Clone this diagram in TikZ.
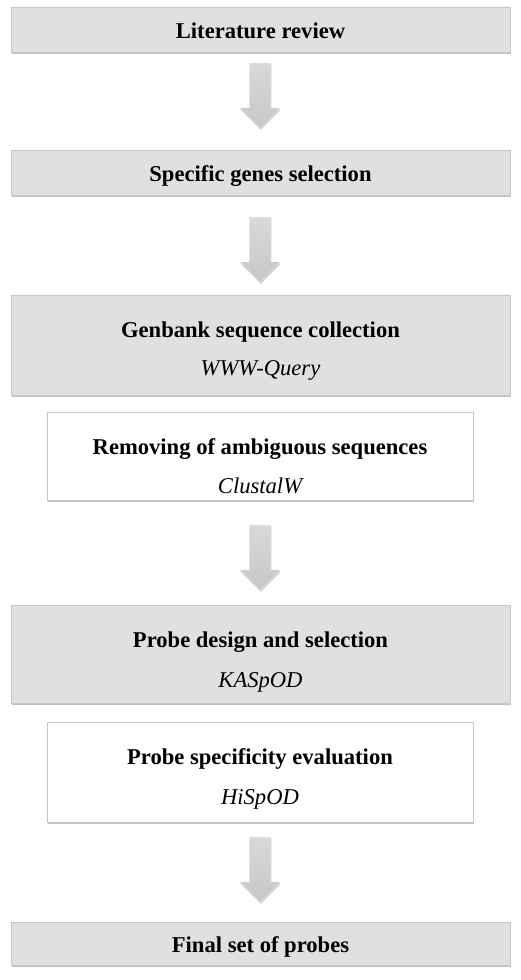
\documentclass[tikz,border=0pt]{standalone}
\usepackage{fontspec}
\setmainfont{Liberation Serif}
\usetikzlibrary{shapes.arrows,shadows}

\begin{document}
\begin{tikzpicture}
                [
                x=1pt, y=-1pt,
                stepbox/.style={rectangle,inner sep=0pt,draw=black!22,line width=0.4pt,fill=black!12,
                    minimum width=499pt,minimum height=45pt,
                    drop shadow={shadow xshift=0pt,shadow yshift=-1pt,opacity=0.25,fill=black},
                    drop shadow={shadow xshift=0.8pt,shadow yshift=-2.4pt,opacity=0.25,fill=black}},
                toolbox/.style={stepbox,fill=white,minimum width=426pt},
                steptitle/.style={anchor=base,inner sep=0pt,font=\fontsize{22.6}{26}\selectfont\bfseries},
                steptool/.style={anchor=base,inner sep=0pt,font=\fontsize{22.6}{26}\selectfont\itshape},
                downarrow/.style={single arrow,shape border rotate=270,inner sep=10.5pt,anchor=tail,
                    minimum height=65pt,minimum width=0pt,single arrow head extend=9.5pt,
                    single arrow tip angle=90,top color=black!15,bottom color=black!22,draw=black!10,line width=0.3pt,
                    drop shadow={shadow xshift=0.6pt,shadow yshift=-1.5pt,opacity=0.2,fill=black}}
                ]
            \useasboundingbox (0,0) rectangle (520,980);
            \node[stepbox] (lit) at (260.5,29.5) {};
            \node[steptitle] (litt) at ([yshift=-32pt]lit.north) {Literature review};
            \node[downarrow] (a1) at (260,63) {};
            \node[stepbox] (genes) at (260.5,172.5) {};
            \node[steptitle] (genest) at ([yshift=-32pt]genes.north) {Specific genes selection};
            \node[downarrow] (a2) at (260,217) {};
            \node[stepbox,minimum height=100pt] (genbank) at (260.5,345) {};
            \node[steptitle] (genbankt) at ([yshift=-43pt]genbank.north) {Genbank sequence collection};
            \node[steptool] (genbanks) at ([yshift=-81pt]genbank.north) {WWW-Query};
            \node[toolbox,minimum height=88pt] (clustal) at (260,456) {};
            \node[steptitle] (clustalt) at ([yshift=-43pt]clustal.north) {Removing of ambiguous sequences};
            \node[steptool] (clustals) at ([yshift=-82pt]clustal.north) {ClustalW};
            \node[downarrow] (a3) at (260,525) {};
            \node[stepbox,minimum height=98pt] (design) at (260.5,654) {};
            \node[steptitle] (designt) at ([yshift=-43pt]design.north) {Probe design and selection};
            \node[steptool] (designs) at ([yshift=-83pt]design.north) {KASpOD};
            \node[toolbox,minimum height=100pt] (eval) at (260,772) {};
            \node[steptitle] (evalt) at ([yshift=-43pt]eval.north) {Probe specificity evaluation};
            \node[steptool] (evals) at ([yshift=-83pt]eval.north) {HiSpOD};
            \node[downarrow] (a4) at (260,837) {};
            \node[stepbox,minimum height=43pt] (final) at (260.5,943.5) {};
            \node[steptitle] (finalt) at ([yshift=-31pt]final.north) {Final set of probes};
            \end{tikzpicture}
\end{document}
